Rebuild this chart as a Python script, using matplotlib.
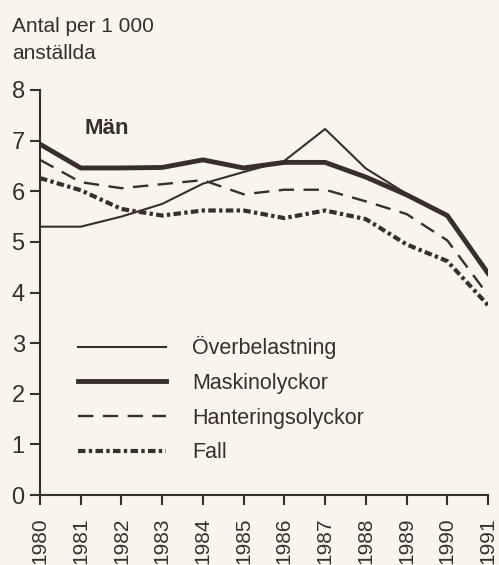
import matplotlib
matplotlib.use('Agg')
import matplotlib.pyplot as plt

# Data
ar = list(range(1980, 1992))
overbelastning = [5.3, 5.3, 5.5, 5.75, 6.15, 6.38, 6.6, 7.23, 6.45, 5.95, 5.52, 4.38]
maskinolyckor = [6.93, 6.46, 6.46, 6.47, 6.62, 6.46, 6.57, 6.57, 6.28, 5.93, 5.52, 4.38]
hanteringsolyckor = [6.62, 6.18, 6.06, 6.14, 6.22, 5.94, 6.03, 6.03, 5.8, 5.55, 5.03, 3.95]
fall = [6.26, 6.02, 5.65, 5.52, 5.62, 5.62, 5.47, 5.62, 5.45, 4.95, 4.62, 3.75]
yticks = [0, 1, 2, 3, 4, 5, 6, 7, 8]

bg = '#f7f5ec'
ink = '#3a2d2e'

plt.rcParams['font.family'] = ['Liberation Sans', 'DejaVu Sans']

fig = plt.figure(figsize=(4.99, 5.65), dpi=100, facecolor=bg)
ax = fig.add_axes([40/499, 1 - 495/565, 448/499, 405/565], facecolor=bg)

ax.plot(ar, overbelastning, color=ink, linewidth=1.5, label='Överbelastning')
ax.plot(ar, maskinolyckor, color=ink, linewidth=3.5, label='Maskinolyckor')
ax.plot(ar, hanteringsolyckor, color=ink, linewidth=1.7,
        linestyle=(0, (6.5, 4)), label='Hanteringsolyckor')
ax.plot(ar, fall, color=ink, linewidth=3.0,
        linestyle=(0, (1.8, 0.8, 0.8, 0.8)), label='Fall')

ax.set_xlim(1980, 1991)
ax.set_ylim(0, 8)
ax.set_xticks(ar)
ax.set_xticklabels([str(a) for a in ar], rotation=90, fontsize=15, color=ink)
ax.set_yticks(yticks)
ax.set_yticklabels([str(v) for v in yticks], fontsize=17, color=ink)

for s in ['top', 'right']:
    ax.spines[s].set_visible(False)
for s in ['left', 'bottom']:
    ax.spines[s].set_color(ink)
    ax.spines[s].set_linewidth(1.5)
ax.tick_params(axis='both', direction='out', length=7, width=1.5, color=ink)
ax.tick_params(axis='x', pad=9)
ax.tick_params(axis='y', pad=4)

fig.text(12/499, 1 - 17/565, 'Antal per 1 000\nanställda', fontsize=15,
         color=ink, ha='left', va='top', linespacing=1.55)
fig.text(85/499, 1 - 134/565, 'Män', fontsize=16, fontweight='bold',
         color=ink, ha='left', va='baseline')

ax.legend(loc='upper left', bbox_to_anchor=(78/499, 1 - 336/565),
          bbox_transform=fig.transFigure, frameon=False, fontsize=15.5,
          handlelength=4.1, handletextpad=1.2, labelspacing=0.64,
          borderpad=0, borderaxespad=0, labelcolor=ink)

fig.savefig('out.png', dpi=100, facecolor=bg)
